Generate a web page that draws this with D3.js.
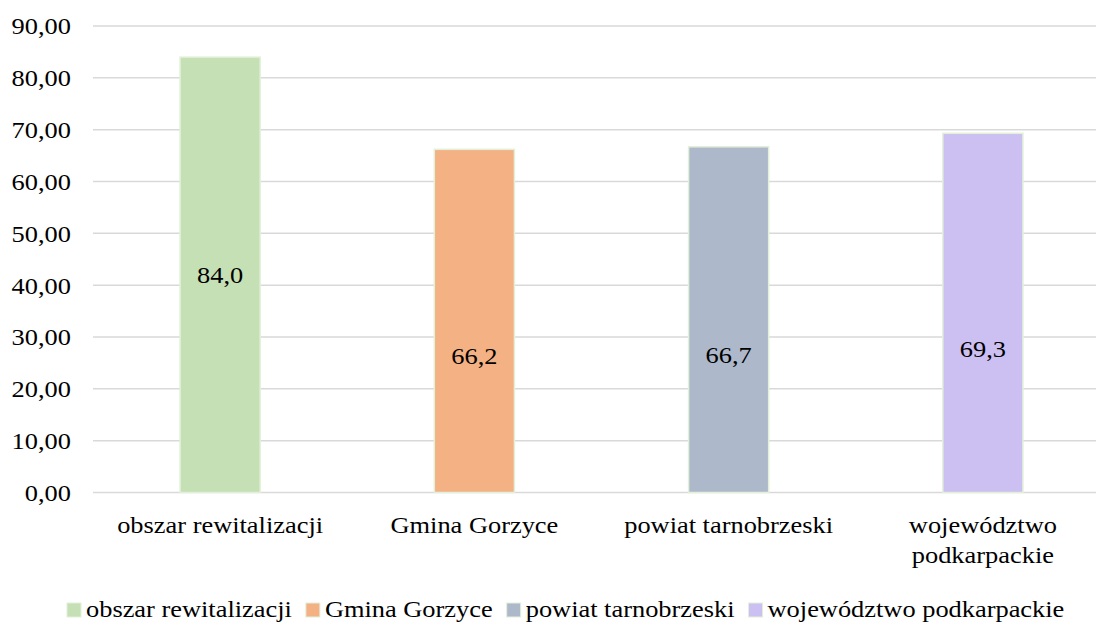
<!DOCTYPE html>
<html>
<head>
<meta charset="utf-8">
<script src="https://d3js.org/d3.v7.min.js"></script>
</head>
<body style="margin:0">
<script>
    // chart data
    var categories = ["obszar rewitalizacji", "Gmina Gorzyce", "powiat tarnobrzeski", "województwo podkarpackie"];
    var categoryLines = [["obszar rewitalizacji"], ["Gmina Gorzyce"], ["powiat tarnobrzeski"], ["województwo", "podkarpackie"]];
    var values = [84.0, 66.2, 66.7, 69.3];
    var colors = ["#c5e0b4", "#f4b183", "#adb9ca", "#ccbff1"];
    var labelAt = [0.5, 0.4, 0.4, 0.4];   // where the value label sits, as a share of bar height
    var yTicks = [0, 10, 20, 30, 40, 50, 60, 70, 80, 90];

    var width = 1096;
    var height = 624;
    var fontSize = 24;
    var stretch = 1.1;   // the source text is a bit wider than plain Times

    var svg = d3.select("body").append("svg")
        .attr("width", width)
        .attr("height", height);

    // text helper: places a string at (x, y), slightly stretched sideways
    function addText(x, y, str, anchor, dy) {
        var t = svg.append("text")
            .attr("x", x / stretch)
            .attr("y", y)
            .attr("dy", dy || 0)
            .attr("transform", "scale(" + stretch + ",1)")
            .attr("text-anchor", anchor || "start")
            .style("font-family", "'Liberation Serif'")
            .style("font-size", fontSize + "px")
            .text(str);
        return t;
    }

    var y = d3.scaleLinear()
        .domain([0, 90])
        .range([492.5, 26]);

    var x = d3.scaleBand()
        .domain(categories)
        .range([93, 1110])
        .paddingInner(0.685)
        .paddingOuter(0.3425);

    var fmt = function (v) { return v.toFixed(2).replace(".", ","); };

    // gridlines
    svg.append("g").selectAll("line")
        .data(yTicks)
        .enter().append("line")
        .attr("x1", 93)
        .attr("x2", width)
        .attr("y1", function (d) { return y(d); })
        .attr("y2", function (d) { return y(d); })
        .attr("stroke", "#d9d9d9")
        .attr("stroke-width", 1.5);

    // y tick labels
    yTicks.forEach(function (d) {
        addText(71, y(d), fmt(d), "end", "0.35em");
    });

    // bars
    svg.append("g").selectAll("rect")
        .data(values)
        .enter().append("rect")
        .attr("x", function (d, i) { return x(categories[i]); })
        .attr("y", function (d) { return y(d); })
        .attr("width", x.bandwidth())
        .attr("height", function (d) { return y(0) - y(d); })
        .attr("fill", function (d, i) { return colors[i]; })
        .attr("stroke", "#e2f0d9")
        .attr("stroke-width", 1.5);

    // value labels
    values.forEach(function (d, i) {
        addText(x(categories[i]) + x.bandwidth() / 2, y(d * labelAt[i]),
            d.toFixed(1).replace(".", ","), "middle", "0.35em");
    });

    // category labels
    categoryLines.forEach(function (lines, i) {
        var cx = x(categories[i]) + x.bandwidth() / 2;
        lines.forEach(function (ln, j) {
            addText(cx, 533 + j * 30, ln, "middle");
        });
    });

    // legend
    var lx = 67;
    categories.forEach(function (c, i) {
        svg.append("rect")
            .attr("x", lx)
            .attr("y", 603)
            .attr("width", 14)
            .attr("height", 14)
            .attr("fill", colors[i])
            .attr("stroke", "#e2f0d9")
            .attr("stroke-width", 1);
        var t = addText(lx + 19, 617, c, "start");
        lx += 19 + t.node().getComputedTextLength() * stretch + 14;
    });
</script>
</body>
</html>
